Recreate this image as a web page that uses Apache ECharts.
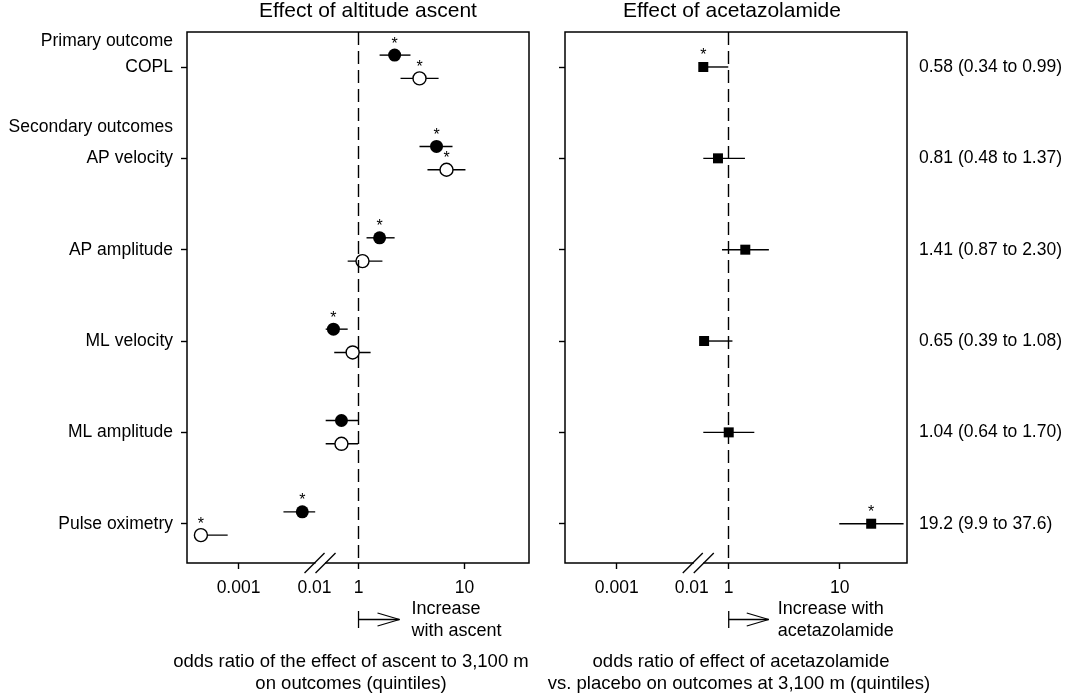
<!DOCTYPE html>
<html>
<head>
<meta charset="utf-8">
<title>Forest plot</title>
<script src="https://cdn.jsdelivr.net/npm/echarts@6.0.0/dist/echarts.min.js"></script>
<style>
  html, body { margin: 0; padding: 0; background: #fff; }
  #chart { width: 1072px; height: 696px; }
</style>
</head>
<body>
<div id="chart"></div>
<script>
// rows, top to bottom
var outcomes = ['COPL', 'AP velocity', 'AP amplitude', 'ML velocity', 'ML amplitude', 'Pulse oximetry'];
var groupHeads = ['Primary outcome', 'Secondary outcomes'];

// effect of ascent - filled circles
var fillEst = [2.19, 5.44, 1.58, 0.58, 0.69, 0.0069];
var fillLo  = [1.58, 3.76, 1.19, 0.49, 0.49, 0.0039];
var fillHi  = [3.09, 7.70, 2.19, 0.79, 0.99, 0.0102];
var fillStar = [1, 1, 1, 1, 0, 1];

// effect of ascent - open circles
var openEst = [3.76, 6.76, 1.09, 0.88, 0.69, 0.00032];
var openLo  = [2.49, 4.47, 0.79, 0.59, 0.49, 0.00026];
var openHi  = [5.69, 10.2, 1.68, 1.30, 0.99, 0.00072];
var openStar = [1, 1, 0, 0, 0, 1];

// effect of acetazolamide - squares
var acetEst = [0.59, 0.80, 1.41, 0.60, 1.00, 19.2];
var acetLo  = [0.59, 0.59, 0.87, 0.60, 0.59, 9.9];
var acetHi  = [0.99, 1.40, 2.30, 1.08, 1.70, 37.6];
var acetStar = [1, 0, 0, 0, 0, 1];
var acetLabels = ['0.58 (0.34 to 0.99)', '0.81 (0.48 to 1.37)', '1.41 (0.87 to 2.30)',
                  '0.65 (0.39 to 1.08)', '1.04 (0.64 to 1.70)', '19.2 (9.9 to 37.6)'];

var tickVals = [0.001, 0.01, 1, 10];
var tickText = ['0.001', '0.01', '1', '10'];
var tickMarks = [0.001, 1, 10];

var FONT = '"Liberation Sans", Arial, sans-serif';

// broken log axis: above the break 1 unit per decade, below it a squeezed log segment
function makeScale(lowRef, lowSlope, breakT) {
    var f = function (v) {
        var lg = Math.log10(v);
        return lg >= breakT ? lg : lowRef + lowSlope * (lg + 2);
    };
    f.breakT = breakT;
    return f;
}
var tA = makeScale(-0.415, 0.717, -0.368);
var tB = makeScale(-0.333, 0.676, -0.279);

function ciItem(params, api) {
    var a = api.coord([api.value(0), api.value(2)]);
    var b = api.coord([api.value(1), api.value(2)]);
    return {
        type: 'line',
        shape: { x1: a[0], y1: a[1], x2: b[0], y2: b[1] },
        style: { stroke: '#000', lineWidth: 1.4 }
    };
}

function ciData(lo, hi, t, dy) {
    return lo.map(function (l, i) { return [t(l), t(hi[i]), i + dy]; });
}
function ptData(est, star, t, dy) {
    return est.map(function (e, i) { return [t(e), i + dy, star[i]]; });
}

var starLabel = {
    show: true,
    position: 'inside',
    offset: [0, -11],
    fontSize: 16,
    fontFamily: FONT,
    color: '#000',
    formatter: function (p) { return p.value[2] ? '*' : ''; }
};

function xAxisFor(t, grid, min, max) {
    return {
        type: 'value', gridIndex: grid, min: min, max: max,
        splitLine: { show: false },
        axisLine: { show: false, onZero: false },
        axisTick: { show: true, length: 6, customValues: tickMarks.map(t),
                    lineStyle: { color: '#000', width: 1.4 } },
        axisLabel: {
            customValues: tickVals.map(t), margin: 16,
            fontSize: 17.5, fontFamily: FONT, color: '#000',
            formatter: function (val) {
                for (var i = 0; i < tickVals.length; i++) {
                    if (Math.abs(t(tickVals[i]) - val) < 1e-6) return tickText[i];
                }
                return '';
            }
        }
    };
}

var rowIdx = [0, 1, 2, 3, 4, 5];
var yMin = -0.383, yMax = 5.43;

var chart = echarts.init(document.getElementById('chart'));
var option = {
    animation: false,
    backgroundColor: '#fff',
    grid: [
        { left: 187, right: 543, top: 32, bottom: 133, show: true, borderColor: '#000', borderWidth: 1.5, backgroundColor: 'transparent' },
        { left: 565, right: 165, top: 32, bottom: 133, show: true, borderColor: '#000', borderWidth: 1.5, backgroundColor: 'transparent' }
    ],
    xAxis: [
        xAxisFor(tA, 0, -1.618, 1.608),
        xAxisFor(tB, 1, -1.475, 1.606)
    ],
    yAxis: [
        {
            type: 'value', gridIndex: 0, inverse: true, min: yMin, max: yMax,
            splitLine: { show: false }, axisLine: { show: false, onZero: false },
            axisTick: { show: true, length: 6, customValues: rowIdx, lineStyle: { color: '#000', width: 1.4 } },
            axisLabel: {
                customValues: [-0.284, 0, 0.656, 1, 2, 3, 4, 5], margin: 14,
                fontSize: 17.5, fontFamily: FONT, color: '#000',
                formatter: function (val) {
                    if (Math.abs(val + 0.284) < 1e-6) return groupHeads[0];
                    if (Math.abs(val - 0.656) < 1e-6) return groupHeads[1];
                    return outcomes[Math.round(val)];
                }
            }
        },
        {
            type: 'value', gridIndex: 1, inverse: true, min: yMin, max: yMax,
            splitLine: { show: false }, axisLine: { show: false, onZero: false },
            axisTick: { show: true, length: 6, customValues: rowIdx, lineStyle: { color: '#000', width: 1.4 } },
            axisLabel: { show: false }
        },
        {
            type: 'value', gridIndex: 1, position: 'right', inverse: true, min: yMin, max: yMax,
            splitLine: { show: false }, axisLine: { show: false, onZero: false }, axisTick: { show: false },
            axisLabel: {
                customValues: rowIdx, margin: 12,
                fontSize: 17.5, fontFamily: FONT, color: '#000',
                formatter: function (val) { return acetLabels[Math.round(val)]; }
            }
        }
    ],
    series: [
        {
            type: 'custom', xAxisIndex: 0, yAxisIndex: 0, renderItem: ciItem,
            encode: { x: [0, 1], y: 2 },
            data: ciData(fillLo, fillHi, tA, -0.13),
            markLine: {
                silent: true, symbol: ['none', 'none'], label: { show: false },
                lineStyle: { color: '#000', type: [13, 6], width: 1.4 },
                data: [{ xAxis: tA(1) }]
            }
        },
        {
            type: 'custom', xAxisIndex: 0, yAxisIndex: 0, renderItem: ciItem,
            encode: { x: [0, 1], y: 2 },
            data: ciData(openLo, openHi, tA, 0.125)
        },
        {
            type: 'scatter', xAxisIndex: 0, yAxisIndex: 0, symbol: 'circle', symbolSize: 13,
            itemStyle: { color: '#000', opacity: 1 },
            label: starLabel,
            data: ptData(fillEst, fillStar, tA, -0.13)
        },
        {
            type: 'scatter', xAxisIndex: 0, yAxisIndex: 0, symbol: 'circle', symbolSize: 13,
            itemStyle: { color: '#fff', borderColor: '#000', borderWidth: 1.4, opacity: 1 },
            label: starLabel,
            data: ptData(openEst, openStar, tA, 0.125)
        },
        {
            type: 'custom', xAxisIndex: 1, yAxisIndex: 1, renderItem: ciItem,
            encode: { x: [0, 1], y: 2 },
            data: ciData(acetLo, acetHi, tB, 0),
            markLine: {
                silent: true, symbol: ['none', 'none'], label: { show: false },
                lineStyle: { color: '#000', type: [13, 6], width: 1.4 },
                data: [{ xAxis: tB(1) }]
            }
        },
        {
            type: 'scatter', xAxisIndex: 1, yAxisIndex: 1, symbol: 'rect', symbolSize: 10,
            itemStyle: { color: '#000', opacity: 1 },
            label: starLabel,
            data: ptData(acetEst, acetStar, tB, 0)
        }
    ]
};
chart.setOption(option);

// break marks, arrows and free text, placed from the axes
var top = 32, bottom = 563;
var g = [];
function txt(x, y, s, size, align) {
    g.push({ type: 'text', x: x, y: y, z: 100,
        style: { text: s, font: size + 'px ' + FONT, fill: '#000',
                 textAlign: align || 'center', textVerticalAlign: 'middle' } });
}
function seg(x1, y1, x2, y2) {
    g.push({ type: 'line', z: 100, shape: { x1: x1, y1: y1, x2: x2, y2: y2 },
        style: { stroke: '#000', lineWidth: 1.3 } });
}
[[0, tA], [1, tB]].forEach(function (p) {
    var cx = chart.convertToPixel({ xAxisIndex: p[0] }, p[1].breakT);
    [top, bottom].forEach(function (y) {
        g.push({ type: 'rect', z: 99, shape: { x: cx - 4, y: y - 2, width: 9.5, height: 4 },
            style: { fill: '#fff' } });
        seg(cx - 15, y + 10, cx + 5, y - 10);
        seg(cx - 4, y + 10, cx + 16, y - 10);
    });
    var x1 = chart.convertToPixel({ xAxisIndex: p[0] }, p[1](1));
    var tip = x1 + (p[0] === 0 ? 41 : 40);
    seg(x1, 611, x1, 628);
    seg(x1, 619.5, tip, 619.5);
    seg(tip - 22, 613, tip, 619.5);
    seg(tip - 22, 626, tip, 619.5);
});

var xa = chart.convertToPixel({ xAxisIndex: 0 }, tA(1));
var xb = chart.convertToPixel({ xAxisIndex: 1 }, tB(1));
txt(368, 11, 'Effect of altitude ascent', 21);
txt(732, 11, 'Effect of acetazolamide', 21);
txt(xa + 53, 609, 'Increase', 18, 'left');
txt(xa + 53, 631, 'with ascent', 18, 'left');
txt(xb + 49, 609, 'Increase with', 18, 'left');
txt(xb + 49, 631, 'acetazolamide', 18, 'left');
txt(351, 662, 'odds ratio of the effect of ascent to 3,100 m', 18.5);
txt(351, 684, 'on outcomes (quintiles)', 18.5);
txt(741, 662, 'odds ratio of effect of acetazolamide', 18.5);
txt(739, 684, 'vs. placebo on outcomes at 3,100 m (quintiles)', 18.5);

chart.setOption({ graphic: g });
</script>
</body>
</html>
